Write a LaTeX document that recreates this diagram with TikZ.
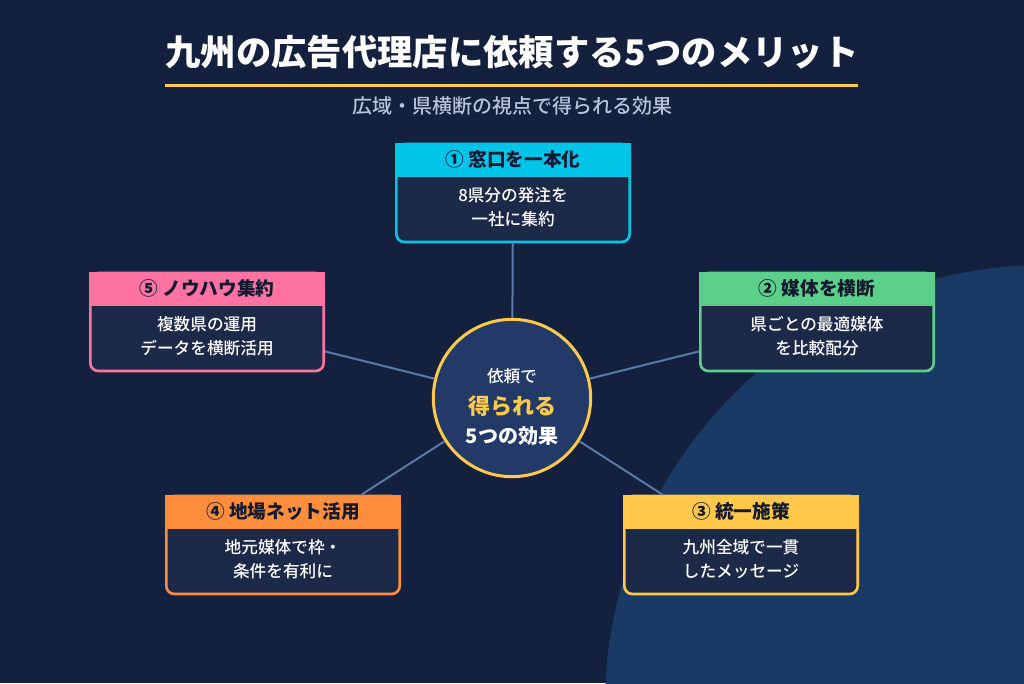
\documentclass[tikz,border=0pt]{standalone}
\usepackage{fontspec}
\setmainfont{Noto Sans CJK JP}
\newfontfamily\jpmedium{Noto Sans CJK JP Medium}
\newfontfamily\jpblack{Noto Sans CJK JP Black}
\usetikzlibrary{positioning, calc}

\definecolor{bgnavy}{HTML}{13203E}
\definecolor{bgarc}{HTML}{1A3A66}
\definecolor{boxbody}{HTML}{1D2948}
\definecolor{hubfill}{HTML}{233A68}
\definecolor{gold}{HTML}{FFC94A}
\definecolor{linkblue}{HTML}{5B79AA}
\definecolor{subgray}{HTML}{B7C3DA}
\definecolor{headdark}{HTML}{111A30}
\definecolor{cyanhead}{HTML}{00C4E8}
\definecolor{greenhead}{HTML}{5CD08A}
\definecolor{yellowhead}{HTML}{FFC84B}
\definecolor{orangehead}{HTML}{FF8E3C}
\definecolor{pinkhead}{HTML}{FF73A3}

\begin{document}
\begin{tikzpicture}[x=0.75pt, y=-0.75pt,
    merit/.style={rectangle, rounded corners=6pt, fill=boxbody, line width=2pt,
      minimum width=175pt, minimum height=73.5pt, inner sep=0pt},
    head/.style={rectangle, line width=2pt, minimum width=175pt, minimum height=23.5pt,
      inner sep=0pt, anchor=north, text=headdark, font=\fontsize{14}{16}\selectfont\bfseries},
    bodytxt/.style={align=center, text=white, inner sep=2pt, font=\fontsize{12.5}{18}\selectfont\jpmedium},
    link/.style={linkblue, line width=1.5pt}]

% background and the large arc on the right
\useasboundingbox (0,0) rectangle (1024,683);
\fill[bgnavy] (0,0) rectangle (1024,683);
\begin{scope}
  \clip (0,0) rectangle (1024,683);
  \fill[bgarc] (1045,705) circle[radius=330pt];
\end{scope}

% title
\node[text=white, font=\fontsize{26.5}{30}\selectfont\jpblack] (title) at (512,52)
   {九州の広告代理店に依頼する5つのメリット};
\draw[gold, line width=2.25pt] (165,85) -- (858,85);
\node[text=subgray, font=\fontsize{15}{18}\selectfont\jpmedium] (subtitle) at (512,106)
   {広域・県横断の視点で得られる効果};

% hub
\node[circle, fill=hubfill, draw=gold, line width=2.25pt, minimum size=118pt] (hub) at (512,398) {};
\node[text=white, font=\fontsize{12.5}{15}\selectfont\jpmedium] (hub1) at ($(hub.center)+(0,-22)$) {依頼で};
\node[text=gold, font=\fontsize{16.5}{20}\selectfont\jpblack] (hub2) at ($(hub.center)+(0,8)$) {得られる};
\node[text=white, font=\fontsize{15}{18}\selectfont\bfseries] (hub3) at ($(hub.center)+(0,38)$) {5つの効果};

% ① window
\node[merit, draw=cyanhead] (b1) at (513,193) {};
\node[head, fill=cyanhead, draw=cyanhead] (h1) at (b1.north) {① 窓口を一本化};
\node[bodytxt, below=6pt of h1] (t1) {8県分の発注を\\一社に集約};

% ② media
\node[merit, draw=greenhead] (b2) at (817,322) {};
\node[head, fill=greenhead, draw=greenhead] (h2) at (b2.north) {② 媒体を横断};
\node[bodytxt, below=6pt of h2] (t2) {県ごとの最適媒体\\を比較配分};

% ③ unified
\node[merit, draw=yellowhead] (b3) at (741,545) {};
\node[head, fill=yellowhead, draw=yellowhead] (h3) at (b3.north) {③ 統一施策};
\node[bodytxt, below=6pt of h3] (t3) {九州全域で一貫\\したメッセージ};

% ④ local
\node[merit, draw=orangehead] (b4) at (283,545) {};
\node[head, fill=orangehead, draw=orangehead] (h4) at (b4.north) {④ 地場ネット活用};
\node[bodytxt, below=6pt of h4] (t4) {地元媒体で枠・\\条件を有利に};

% ⑤ know-how
\node[merit, draw=pinkhead] (b5) at (207,322) {};
\node[head, fill=pinkhead, draw=pinkhead] (h5) at (b5.north) {⑤ ノウハウ集約};
\node[bodytxt, below=6pt of h5] (t5) {複数県の運用\\データを横断活用};

% spokes
\foreach \b in {b1,b2,b3,b4,b5}
  \draw[link] (hub) -- (\b);
\end{tikzpicture}
\end{document}
